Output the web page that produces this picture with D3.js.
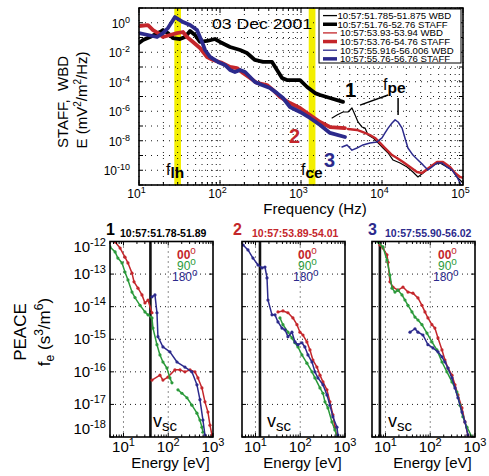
<!DOCTYPE html>
<html>
<head>
<meta charset="utf-8">
<script src="https://cdn.jsdelivr.net/npm/d3@7"></script>
<style>
body { margin: 0; background: #fff; }
svg { font-family: "Liberation Sans", Arial, sans-serif; }
</style>
</head>
<body>
<svg id="chart" width="489" height="476"></svg>
<script>
// ---- top panel data: [frequency Hz, E (mV^2/m^2/Hz)] ----
const staffBlack = [[10,0.042],[11.2,0.068],[13.7,0.108],[18.2,0.236],[19.8,0.32],[22.8,0.20],[26.3,0.092],[32,0.079],[37,0.108],[42.7,0.276],[49.1,0.148],[56.6,0.050],[69.2,0.058],[86.7,0.079],[100,0.050],[133,0.0227],[177,0.0142],[215,0.0089],[270,0.0030],[340,0.0022],[439,0.0022],[506,6.3e-4],[583,1.8e-4],[671,1.3e-4],[973,1.3e-4],[1190,4.4e-5],[1490,1.7e-5],[1720,1.26e-5],[2280,7.9e-6],[3300,4.3e-6]]
const staffRed = [[10,0.60],[12.9,0.70],[14.9,0.32],[17.2,0.20],[19.8,0.108],[24.2,0.148],[29.4,0.20],[34.9,0.236],[39.1,0.108],[46.4,0.050],[56.6,0.0194],[69.2,0.0048],[82,0.0030],[106,0.0019],[133,0.001],[162,8.5e-4],[192,3.9e-4],[235,1.8e-4],[286,8.3e-5],[380,6.0e-5],[451,2.8e-5],[550,9.3e-6],[731,3.6e-6],[973,1.66e-6],[1290,5.6e-7],[1720,1.87e-7],[2280,8.5e-8],[3490,7.2e-8]]
const staffBlue = [[10,0.20],[12.9,0.148],[16.7,0.108],[19.8,0.20],[22.8,0.44],[27.8,2.45],[34.9,1.12],[42.7,0.70],[52,0.32],[60,0.050],[65.3,0.0142],[75.3,0.0048],[94.4,0.0022],[115,0.00137],[133,6.3e-4],[153,4.6e-4],[177,6.3e-4],[204,4.6e-4],[235,2.1e-4],[270,9.6e-5],[330,6.0e-5],[414,3.8e-5],[506,1.7e-5],[600,7.9e-6],[731,1.95e-6],[973,8.9e-7],[1290,3.5e-7],[1720,1.17e-7],[2280,3.4e-8],[3490,1.8e-8]]
const wbdBlack = [[2420,3.5e-7],[2780,5.6e-7],[3300,8.9e-7],[3800,8.9e-7],[4260,1.66e-6],[4650,5.6e-7],[5060,1.87e-7],[5670,8.5e-8],[6170,7.2e-8],[6720,2.45e-8],[7740,1.55e-8],[8930,7.1e-9],[10300,3.2e-9],[11900,1.48e-9],[13700,4.9e-10],[16700,3.1e-10],[20400,1.66e-10],[24100,7.6e-11],[27800,3.5e-11],[35900,1.05e-10],[42700,2.3e-10],[52000,3.1e-10],[63400,1.66e-10],[73100,1.05e-10],[84300,3.5e-11],[97200,1.6e-11]]
const wbdRed = [[3800,6.3e-8],[4910,5.4e-8],[5820,3.9e-8],[7110,2.45e-8],[8200,1.55e-8],[9450,7.1e-9],[10900,3.2e-9],[13300,1.07e-9],[15300,6.8e-10],[18200,3.6e-10],[22200,1.66e-10],[27000,7.6e-11],[31200,6.5e-11],[39200,1.66e-10],[47800,3.6e-10],[56600,3.6e-10],[69200,1.66e-10],[79700,6.5e-11],[91900,3.5e-11],[100000,3.0e-11]]
const wbdBlue = [[3210,3.8e-9],[3700,5.2e-9],[4260,2.3e-9],[4910,3.2e-9],[5820,5.2e-9],[7110,7.1e-9],[8670,8.3e-9],[10000,1.55e-8],[10900,3.4e-8],[11900,7.2e-8],[13300,1.6e-7],[14500,2.6e-7],[15800,1.87e-7],[17700,7.2e-8],[19200,1.55e-8],[20900,3.2e-9],[24100,1.07e-9],[27800,4.9e-10],[32100,2.3e-10],[37000,1.05e-10],[41400,1.66e-10],[47800,3.1e-10],[55100,3.1e-10],[63400,1.66e-10],[73100,1.05e-10],[84300,3.5e-11],[91900,1.4e-11],[97200,4.6e-12]]

const fLH = 30
const fCE = 1370
const fpeLines = [[[5350,2.6e-6],[11900,1.26e-5]],[[15800,7.9e-6],[15800,5.6e-7]]]

const legendLabels = ["10:57:51.785-51.875 WBD","10:57:51.76-52.76 STAFF","10:57:53.93-53.94 WBD","10:57:53.76-54.76 STAFF","10:57:55.916-56.006 WBD","10:57:55.76-56.76 STAFF"]

const freqTicks = [10, 100, 1000, 10000, 100000]
const freqTickExp = ["1","2","3","4","5"]
const specTicks = [1, 1e-2, 1e-4, 1e-6, 1e-8, 1e-10]
const specTickExp = ["0","-2","-4","-6","-8","-10"]
const specDecades = [1e1, 1, 1e-1, 1e-2, 1e-3, 1e-4, 1e-5, 1e-6, 1e-7, 1e-8, 1e-9, 1e-10, 1e-11]

// ---- PEACE panels: [energy eV, f_e s^3/m^6], null = gap ----
const p1Red = [[6.5,9.7e-13],[8.4,6.3e-13],[10.8,3.3e-13],[12.6,2.2e-13],[15.5,1.07e-13],[17.2,5.8e-14],[21.1,3.7e-14],[25.9,2.3e-14],[30.2,1.3e-14],[35.3,1.6e-14],[43.3,6.5e-15],null,[43.3,5.6e-17],[65.3,7.9e-17],[76.2,5.6e-17],[98.6,6.9e-17],[141,1.15e-16],[183,1.15e-16],[236,1.0e-16],[306,1.15e-16],[395,1.0e-16],[461,6.5e-17],[566,3.2e-17],[661,1.2e-17],[771,5.8e-18],[855,2.3e-18],[947,1.15e-18]]
const p1Green = [[5.0,6.8e-13],[6.5,4.8e-13],[7.5,3.1e-13],[9.3,2.2e-13],[10.8,1.15e-13],[12.6,6.6e-14],[15.5,2.8e-14],[18.1,1.9e-14],[23.4,1.1e-14],[30.2,6.9e-15],[35.3,5.6e-15],[43.3,4.5e-15],[45.6,2.2e-15],[56,6.8e-16],[65.3,3.3e-16],[76.2,2.0e-16],[93.6,1.3e-16],[109,6.5e-17],[121,4.6e-17],null,[165,2.8e-17],[202,2.2e-17],[262,1.6e-17],[338,9.5e-18],[438,5.4e-18],[511,3.3e-18],[566,2.0e-18],[596,1.4e-18]]
const p1Blue = [[43.3,2.0e-14],[50.5,2.3e-14],[56,6.5e-15],[58.9,1.2e-15],[76.2,5.8e-16],[109,4.1e-16],[157,2.0e-16],[236,1.4e-16],[338,1.0e-16],[438,4.0e-17],[511,1.4e-17],[596,3.3e-18],[661,1.15e-18]]

const p2Red = [[31.8,6.9e-15],[41.1,7.4e-15],[53.2,6.5e-15],[68.7,4.5e-15],[84.5,2.8e-15],[98.6,1.65e-15],[115,1.35e-15],[141,8.3e-16],[165,4.7e-16],[192,2.3e-16],[236,1.4e-16],[276,7.9e-17],[322,4.9e-17],[395,2.8e-17],[461,1.2e-17],[537,4.8e-18],[596,2.0e-18],[661,1.0e-18]]
const p2Green = [[35.3,4.5e-15],[41.1,2.8e-15],[53.2,1.65e-15],[65.3,1.1e-15],[76.2,7.8e-16],[88.9,5.8e-16],[109,3.3e-16],[141,1.85e-16],[183,1.0e-16],[213,6.5e-17],[276,3.2e-17],[322,2.2e-17],[357,1.2e-17],[416,7.8e-18],[511,2.9e-18],[596,1.65e-18],[661,1.0e-18]]
const p2Blue = [[5.3,7.8e-13],[6.8,5.5e-13],[8.8,3.1e-13],[11.4,1.9e-13],[14.0,1.55e-13],[16.3,1.65e-13],[18.1,7.6e-14],[19.0,1.6e-14],[23.4,5.6e-15],[27.3,5.6e-15],[31.8,3.4e-15],[39.1,2.2e-15],[45.6,1.95e-15],[53.2,1.2e-15],[65.3,1.65e-15],[76.2,8.3e-16],[88.9,6.8e-16],[109,7.8e-16],[127,5.8e-16],[149,3.3e-16],[183,2.0e-16],[213,1.0e-16],[249,6.5e-17],[322,4.0e-17],[395,1.95e-17],[461,9.5e-18],[537,4.2e-18],[661,2.0e-18],[695,1.15e-18]]

const p3Red = [[7.5,7.8e-13],[8.8,6.3e-13],[10.8,3.9e-13],[11.4,2.3e-13],[12.6,5.8e-14],[14.7,4.0e-14],[19.0,3.2e-14],[24.6,4.0e-14],[31.8,2.8e-14],[41.1,2.6e-14],[53.2,1.85e-14],[65.3,1.1e-14],[76.2,6.9e-15],[88.9,4.5e-15],[109,2.8e-15],[127,2.2e-15],[149,1.1e-15],[183,4.7e-16],[213,2.3e-16],[249,1.3e-16],[306,7.9e-17],[357,4.0e-17],[416,1.95e-17],[511,7.8e-18],[596,2.9e-18],[695,1.15e-18]]
const p3Green = [[6.8,9.7e-13],[8.8,6.8e-13],[10.8,2.7e-13],[12.6,9.3e-14],[14.0,3.7e-14],[16.3,2.8e-14],[19.0,3.2e-14],[23.4,2.3e-14],[27.3,1.6e-14],[31.8,1.1e-14],[39.1,6.9e-15],[45.6,4.8e-15],[53.2,3.9e-15],[65.3,2.8e-15],[84.5,1.55e-15],[109,8.3e-16],[141,4.7e-16],[183,2.0e-16],[236,1.0e-16],[306,4.9e-17],[395,2.4e-17],[461,9.5e-18],[537,4.2e-18],[661,2.0e-18],[855,1.0e-18]]
const p3Blue = [[35.3,1.65e-15],[45.6,2.1e-15],[53.2,1.65e-15],[68.7,1.35e-15],[88.9,6.8e-16],[115,5.4e-16],[149,4.1e-16],[183,2.9e-16],[213,2.0e-16],[249,1.3e-16],[306,6.5e-17],[357,3.2e-17],[416,1.6e-17],[511,5.8e-18],[596,2.9e-18],[695,1.15e-18]]

const vscEnergy = [40, 12.6, 7.5]
const panelNumbers = ["1", "2", "3"]
const panelTimes = ["10:57:51.78-51.89", "10:57:53.89-54.01", "10:57:55.90-56.02"]
const pitchLabels = ["00", "90", "180"]

const energyTicks = [10, 100, 1000]
const energyTickExp = ["1", "2", "3"]
const fTicks = [1e-12, 1e-13, 1e-14, 1e-15, 1e-16, 1e-17, 1e-18]
const fTickExp = ["-12", "-13", "-14", "-15", "-16", "-17", "-18"]

// ---- styles / layout ----
const col = {black: "#000", red: "#c4262b", blue: "#2c2a8c", green: "#2b9a3b", yellow: "#f3ef00"}
const panelCols = [col.red, col.green, col.blue]
const titleCols = [col.black, col.red, col.blue]
const panelLeft = [110, 242, 372]
const panelW = 103
const numX = [106, 233, 368]
const timeX = [120, 252, 385]
const pitchX = [177, 298, 438]
const vscLabelX = [153, 267, 388]

const svg = d3.select("#chart")

const supText = (g, x, y, base, exp, size, supSize, anchor) => {
    const t = g.append("text").attr("x", x).attr("y", y)
        .attr("font-size", size).attr("text-anchor", anchor)
    t.append("tspan").text(base)
    t.append("tspan").attr("dy", -size * 0.42).attr("font-size", supSize).text(exp)
    return t
}

// =========== top spectrum plot ===========
const fx = d3.scaleLog().domain([10, 1e5]).range([139, 463])
const fy = d3.scaleLog().domain([1e-11, 10]).range([185, 8])

svg.append("clipPath").attr("id", "clipTop").append("rect")
    .attr("x", 139).attr("y", 8).attr("width", 324).attr("height", 177)

const topG = svg.append("g")

// yellow bands
;[fLH, fCE].forEach(f => {
    topG.append("rect")
        .attr("x", fx(f / 1.1)).attr("width", fx(f * 1.1) - fx(f / 1.1))
        .attr("y", 8).attr("height", 177)
        .attr("fill", col.yellow)
})

// dotted grid
topG.append("g").selectAll("line").data(fx.ticks()).join("line")
    .attr("x1", d => fx(d)).attr("x2", d => fx(d)).attr("y1", 8).attr("y2", 185)
    .attr("stroke", "#000").attr("stroke-width", 0.9).attr("stroke-dasharray", "1,5")
topG.append("g").selectAll("line").data(specDecades).join("line")
    .attr("y1", d => fy(d)).attr("y2", d => fy(d)).attr("x1", 139).attr("x2", 463)
    .attr("stroke", "#000").attr("stroke-width", 0.9).attr("stroke-dasharray", "1,5")

const specLine = d3.line().x(d => fx(d[0])).y(d => fy(d[1]))
const curves = topG.append("g").attr("clip-path", "url(#clipTop)")
    .attr("fill", "none").attr("stroke-linejoin", "round").attr("stroke-linecap", "round")
const thick = [[staffBlack, col.black], [staffRed, col.red], [staffBlue, col.blue]]
const thin = [[wbdBlack, col.black, 1.2], [wbdRed, col.red, 2.4], [wbdBlue, col.blue, 1.5]]
thick.forEach(([d, c]) => curves.append("path").attr("d", specLine(d)).attr("stroke", c).attr("stroke-width", 3.8))
thin.forEach(([d, c, w]) => curves.append("path").attr("d", specLine(d)).attr("stroke", c).attr("stroke-width", w))

// f_pe pointer lines
fpeLines.forEach(seg => {
    topG.append("line")
        .attr("x1", fx(seg[0][0])).attr("y1", fy(seg[0][1]))
        .attr("x2", fx(seg[1][0])).attr("y2", fy(seg[1][1]))
        .attr("stroke", "#000").attr("stroke-width", 1.5)
})

// frame + ticks
topG.append("rect").attr("x", 139).attr("y", 8).attr("width", 324).attr("height", 177)
    .attr("fill", "none").attr("stroke", "#000").attr("stroke-width", 1.6)
fx.ticks().forEach(t => {
    const len = freqTicks.includes(t) ? 5 : 3
    topG.append("line").attr("x1", fx(t)).attr("x2", fx(t)).attr("y1", 185).attr("y2", 185 - len).attr("stroke", "#000")
    topG.append("line").attr("x1", fx(t)).attr("x2", fx(t)).attr("y1", 8).attr("y2", 8 + len).attr("stroke", "#000")
})
specDecades.forEach(t => {
    topG.append("line").attr("x1", 139).attr("x2", 143).attr("y1", fy(t)).attr("y2", fy(t)).attr("stroke", "#000")
    topG.append("line").attr("x1", 463).attr("x2", 459).attr("y1", fy(t)).attr("y2", fy(t)).attr("stroke", "#000")
})

// tick labels
freqTicks.forEach((t, i) => supText(topG, fx(t) - 2.5, 198, "10", freqTickExp[i], 12, 9, "middle"))
specTicks.forEach((t, i) => supText(topG, 130, fy(t) + 5, "10", specTickExp[i], 12, 9, "end"))

topG.append("text").attr("x", 315).attr("y", 214).attr("text-anchor", "middle")
    .attr("font-size", 15).text("Frequency (Hz)")

topG.append("text").attr("transform", "translate(67.5,102) rotate(-90)")
    .attr("text-anchor", "middle").attr("font-size", 15).attr("xml:space", "preserve").text("STAFF,  WBD")
const ylab2 = topG.append("text").attr("transform", "translate(87,100) rotate(-90)")
    .attr("text-anchor", "middle").attr("font-size", 15)
ylab2.append("tspan").text("E (mV")
ylab2.append("tspan").attr("dy", -6).attr("font-size", 10).text("2")
ylab2.append("tspan").attr("dy", 6).text("/m")
ylab2.append("tspan").attr("dy", -6).attr("font-size", 10).text("2")
ylab2.append("tspan").attr("dy", 6).text("/Hz)")

topG.append("text").attr("x", 212).attr("y", 29).attr("font-size", 15.5)
    .attr("textLength", 100).attr("lengthAdjust", "spacingAndGlyphs").text("03 Dec 2001")

// frequency labels
const subLabel = (x, y, base, sub, dy) => {
    const t = topG.append("text").attr("x", x).attr("y", y).attr("font-size", 16)
    t.append("tspan").text(base)
    t.append("tspan").attr("dy", dy).attr("font-weight", "bold").attr("font-size", 15.5).text(sub)
}
subLabel(166, 175, "f", "lh", 3)
subLabel(301, 175, "f", "ce", 3)
subLabel(383, 90, "f", "pe", 3)

topG.append("text").attr("x", 345).attr("y", 97).attr("font-size", 20).attr("font-weight", "bold").attr("fill", col.black).text("1")
topG.append("text").attr("x", 289).attr("y", 143).attr("font-size", 20).attr("font-weight", "bold").attr("fill", col.red).text("2")
topG.append("text").attr("x", 324).attr("y", 167).attr("font-size", 20).attr("font-weight", "bold").attr("fill", col.blue).text("3")

// legend
const leg = topG.append("g")
leg.append("rect").attr("x", 319).attr("y", 9).attr("width", 142).attr("height", 54)
    .attr("fill", "#fff").attr("stroke", "#000").attr("stroke-width", 1)
const legCols = [col.black, col.black, col.red, col.red, col.blue, col.blue]
legendLabels.forEach((lab, i) => {
    const y = 15.6 + i * 8.65
    leg.append("line").attr("x1", 323).attr("x2", 337).attr("y1", y).attr("y2", y)
        .attr("stroke", legCols[i]).attr("stroke-width", i % 2 ? 3.5 : 1.3)
    leg.append("text").attr("x", i < 2 ? 337.5 : 340).attr("y", y + 3.3).attr("font-size", 9.6).text(lab)
})

// =========== PEACE panels ===========
const peace = [[p1Red, p1Green, p1Blue], [p2Red, p2Green, p2Blue], [p3Red, p3Green, p3Blue]]
const py = d3.scaleLog().domain([1e-18, 1e-12]).range([437, 241.5])

peace.forEach((series, k) => {
    const x0 = panelLeft[k]
    const px = d3.scaleLog().domain([5, 1000]).range([x0, x0 + panelW])
    const g = svg.append("g")
    const clipId = "clipP" + k
    svg.append("clipPath").attr("id", clipId).append("rect")
        .attr("x", x0).attr("y", 241.5).attr("width", panelW).attr("height", 195.5)

    // grid
    g.selectAll(".gx").data(energyTicks.slice(0, 2)).join("line")
        .attr("x1", d => px(d)).attr("x2", d => px(d)).attr("y1", 241.5).attr("y2", 437)
        .attr("stroke", "#000").attr("stroke-width", 0.9).attr("stroke-dasharray", "1,4")
    g.selectAll(".gy").data(fTicks.slice(1, 6)).join("line")
        .attr("y1", d => py(d)).attr("y2", d => py(d)).attr("x1", x0).attr("x2", x0 + panelW)
        .attr("stroke", "#000").attr("stroke-width", 0.9).attr("stroke-dasharray", "1,4")

    // spacecraft potential
    g.append("line").attr("x1", px(vscEnergy[k])).attr("x2", px(vscEnergy[k]))
        .attr("y1", 241.5).attr("y2", 437).attr("stroke", "#111").attr("stroke-width", 2.6)

    const line = d3.line().defined(d => d !== null).x(d => px(d[0])).y(d => py(d[1]))
    const cg = g.append("g").attr("clip-path", `url(#${clipId})`)
    series.forEach((data, j) => {
        cg.append("path").attr("d", line(data)).attr("fill", "none")
            .attr("stroke", panelCols[j]).attr("stroke-width", 1.5).attr("stroke-linejoin", "round")
        cg.append("g").selectAll("circle").data(data.filter(d => d !== null)).join("circle")
            .attr("cx", d => px(d[0])).attr("cy", d => py(d[1])).attr("r", 1.6)
            .attr("fill", panelCols[j])
    })

    // frame + ticks
    g.append("rect").attr("x", x0).attr("y", 241.5).attr("width", panelW).attr("height", 195.5)
        .attr("fill", "none").attr("stroke", "#000").attr("stroke-width", 1.6)
    px.ticks().forEach(t => {
        const len = energyTicks.includes(t) ? 4 : 2.5
        g.append("line").attr("x1", px(t)).attr("x2", px(t)).attr("y1", 437).attr("y2", 437 - len).attr("stroke", "#000")
        g.append("line").attr("x1", px(t)).attr("x2", px(t)).attr("y1", 241.5).attr("y2", 241.5 + len).attr("stroke", "#000")
    })
    fTicks.forEach(t => {
        g.append("line").attr("x1", x0).attr("x2", x0 + 4).attr("y1", py(t)).attr("y2", py(t)).attr("stroke", "#000")
        g.append("line").attr("x1", x0 + panelW).attr("x2", x0 + panelW - 4).attr("y1", py(t)).attr("y2", py(t)).attr("stroke", "#000")
    })

    energyTicks.forEach((t, i) => supText(g, px(t), 452, "10", energyTickExp[i], 15, 11, "middle"))
    g.append("text").attr("x", x0 + panelW / 2 + 9).attr("y", 468).attr("text-anchor", "middle")
        .attr("font-size", 15).text("Energy [eV]")

    // titles
    g.append("text").attr("x", numX[k]).attr("y", 235).attr("font-size", 16).attr("font-weight", "bold")
        .attr("fill", titleCols[k]).text(panelNumbers[k])
    g.append("text").attr("x", timeX[k]).attr("y", 237).attr("font-size", 10.5).attr("font-weight", "bold")
        .attr("fill", titleCols[k]).text(panelTimes[k])

    // pitch angle legend
    pitchLabels.forEach((lab, j) => {
        const t = g.append("text").attr("x", pitchX[k] - (j === 2 ? 5 : 0)).attr("y", 259 + j * 11)
            .attr("font-size", 12).attr("fill", panelCols[j])
        t.append("tspan").attr("font-weight", j === 0 ? "bold" : "normal").text(lab)
        t.append("tspan").attr("dy", -5).attr("font-size", 10).text("o")
    })

    // v_sc
    const v = g.append("text").attr("x", vscLabelX[k]).attr("y", 427).attr("font-size", 18)
    v.append("tspan").text("v")
    v.append("tspan").attr("dy", 4).attr("font-size", 15).text("sc")
})

// panel y labels
fTicks.forEach((t, i) => {
    let y = py(t) + 5
    if (i === 0) y = 252
    if (i === fTicks.length - 1) y = 434
    supText(svg, 106, y, "10", fTickExp[i], 15, 11, "end")
})
svg.append("text").attr("transform", "translate(26,332) rotate(-90)").attr("text-anchor", "middle")
    .attr("font-size", 17).text("PEACE")
const fl = svg.append("text").attr("transform", "translate(50,332) rotate(-90)").attr("text-anchor", "middle")
    .attr("font-size", 17)
fl.append("tspan").text("f")
fl.append("tspan").attr("dy", 4).attr("font-size", 12).text("e")
fl.append("tspan").attr("dy", -4).text(" (s")
fl.append("tspan").attr("dy", -7).attr("font-size", 12).text("3")
fl.append("tspan").attr("dy", 7).text("/m")
fl.append("tspan").attr("dy", -7).attr("font-size", 12).text("6")
fl.append("tspan").attr("dy", 7).text(")")
</script>
</body>
</html>
